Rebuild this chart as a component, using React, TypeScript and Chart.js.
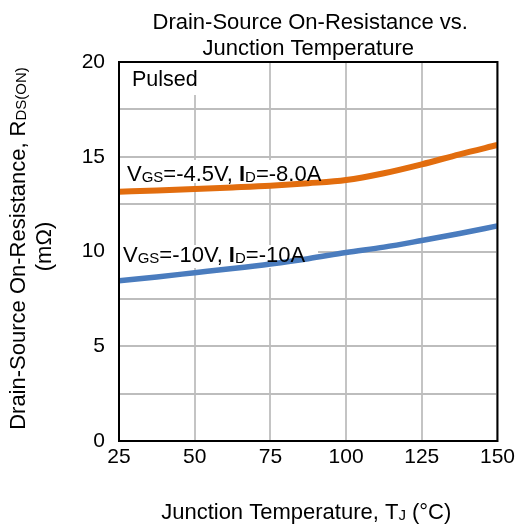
import { useEffect, useRef } from 'react';
import { Chart, registerables } from 'chart.js';

Chart.register(...registerables);

const temperatures = [25, 37.5, 50, 62.5, 75, 87.5, 100, 112.5, 125, 137.5, 150];
const rdsOnVgs45 = [13.15, 13.22, 13.3, 13.38, 13.47, 13.6, 13.77, 14.13, 14.6, 15.13, 15.62];
const rdsOnVgs10 = [8.46, 8.66, 8.88, 9.1, 9.34, 9.62, 9.95, 10.23, 10.58, 10.95, 11.35];
const xTickValues = [25, 50, 75, 100, 125, 150];
const yTickValues = [0, 5, 10, 15, 20];

const FAMILY = '"Liberation Sans", Arial, sans-serif';
const ORANGE = '#E26D0E';
const BLUE = '#4A7CBE';

type Seg = { t: string; s: number; b?: boolean; dy?: number };

function fnt(size: number, bold = false) {
  return `${bold ? 'bold ' : ''}${size}px ${FAMILY}`;
}

function richWidth(ctx: CanvasRenderingContext2D, segs: Seg[]) {
  let w = 0;
  for (const g of segs) {
    ctx.font = fnt(g.s, g.b);
    w += ctx.measureText(g.t).width;
  }
  return w;
}

function drawRich(ctx: CanvasRenderingContext2D, segs: Seg[], x: number, y: number, align: 'left' | 'center') {
  const w = richWidth(ctx, segs);
  let cx = align === 'center' ? x - w / 2 : x;
  ctx.textAlign = 'left';
  ctx.textBaseline = 'alphabetic';
  for (const g of segs) {
    ctx.font = fnt(g.s, g.b);
    ctx.fillText(g.t, cx, y + (g.dy || 0));
    cx += ctx.measureText(g.t).width;
  }
}

const decorPlugin = {
  id: 'decor',
  beforeDatasetsDraw(chart: any) {
    const { ctx, chartArea: a } = chart;
    ctx.save();
    ctx.fillStyle = '#ffffff';
    ctx.fillRect(a.left + 1, a.top + 1, 78, 32);
    ctx.fillRect(a.left + 6, a.top + 98, 204, 23);
    ctx.fillRect(a.left + 1, a.top + 183, 198, 23);
    ctx.restore();
  },
  afterDatasetsDraw(chart: any) {
    const { ctx, chartArea: a } = chart;
    ctx.save();
    ctx.strokeStyle = '#000000';
    ctx.lineWidth = 2;
    ctx.strokeRect(a.left, a.top, a.right - a.left, a.bottom - a.top);
    ctx.fillStyle = '#000000';
    drawRich(ctx, [{ t: 'Pulsed', s: 21.5 }], a.left + 13, a.top + 24, 'left');
    drawRich(
      ctx,
      [
        { t: 'V', s: 22 },
        { t: 'GS', s: 15, dy: 1 },
        { t: '=-4.5V, ', s: 22 },
        { t: 'I', s: 22, b: true },
        { t: 'D', s: 15, dy: 1 },
        { t: '=-8.0A', s: 22 },
      ],
      a.left + 8,
      a.top + 119,
      'left'
    );
    drawRich(
      ctx,
      [
        { t: 'V', s: 22 },
        { t: 'GS', s: 15, dy: 1 },
        { t: '=-10V, ', s: 22 },
        { t: 'I', s: 22, b: true },
        { t: 'D', s: 15, dy: 1 },
        { t: '=-10A', s: 22 },
      ],
      a.left + 4,
      a.top + 200,
      'left'
    );
    ctx.restore();
  },
  afterDraw(chart: any) {
    const { ctx, chartArea: a } = chart;
    const cx = (a.left + a.right) / 2;
    ctx.save();
    ctx.fillStyle = '#000000';
    drawRich(ctx, [{ t: 'Drain-Source On-Resistance vs.', s: 22 }], cx + 2, 29, 'center');
    drawRich(ctx, [{ t: 'Junction Temperature', s: 22 }], cx, 55, 'center');
    drawRich(
      ctx,
      [
        { t: 'Junction Temperature, T', s: 22 },
        { t: 'J', s: 15, dy: 1 },
        { t: ' (°C)', s: 22 },
      ],
      cx - 2,
      519,
      'center'
    );
    const cy = (a.top + a.bottom) / 2;
    ctx.translate(25, cy - 3);
    ctx.rotate(-Math.PI / 2);
    drawRich(
      ctx,
      [
        { t: 'Drain-Source On-Resistance, R', s: 22 },
        { t: 'DS(ON)', s: 15, dy: 1 },
      ],
      0,
      0,
      'center'
    );
    ctx.restore();
    ctx.save();
    ctx.fillStyle = '#000000';
    ctx.translate(51, cy - 5);
    ctx.rotate(-Math.PI / 2);
    drawRich(ctx, [{ t: '(mΩ)', s: 22 }], 0, 0, 'center');
    ctx.restore();
  },
};

export default function App() {
  const ref = useRef<HTMLCanvasElement | null>(null);

  useEffect(() => {
    document.body.style.margin = '0';
    const canvas = ref.current;
    if (!canvas) return;
    const chart = new Chart(canvas, {
      type: 'line',
      data: {
        datasets: [
          {
            label: 'VGS=-4.5V, ID=-8.0A',
            data: temperatures.map((t, i) => ({ x: t, y: rdsOnVgs45[i] })),
            borderColor: ORANGE,
            borderWidth: 6,
            pointRadius: 0,
            tension: 0.4,
            cubicInterpolationMode: 'monotone',
            fill: false,
          },
          {
            label: 'VGS=-10V, ID=-10A',
            data: temperatures.map((t, i) => ({ x: t, y: rdsOnVgs10[i] })),
            borderColor: BLUE,
            borderWidth: 5.5,
            pointRadius: 0,
            tension: 0.4,
            cubicInterpolationMode: 'monotone',
            fill: false,
          },
        ],
      },
      options: {
        responsive: false,
        animation: false,
        devicePixelRatio: 1,
        layout: { padding: { top: 62, right: 19, left: 0, bottom: 0 } },
        plugins: {
          legend: { display: false },
          title: { display: false },
          tooltip: { enabled: false },
        },
        scales: {
          x: {
            type: 'linear',
            min: 25,
            max: 150,
            afterFit: (s: any) => {
              s.height = 87;
            },
            afterBuildTicks: (s: any) => {
              s.ticks = xTickValues.map((v) => ({ value: v }));
            },
            ticks: {
              autoSkip: false,
              maxRotation: 0,
              padding: 4,
              color: '#000000',
              font: { family: FAMILY, size: 21 },
              callback: (v: any) => String(v),
            },
            grid: { color: '#C4C4C4', lineWidth: 2, drawTicks: false },
            border: { display: false },
          },
          y: {
            type: 'linear',
            min: 0,
            max: 20,
            afterFit: (s: any) => {
              s.width = 119;
            },
            afterBuildTicks: (s: any) => {
              const out: any[] = [];
              for (let i = 0; i < yTickValues.length; i++) {
                out.push({ value: yTickValues[i] });
                if (i < yTickValues.length - 1) out.push({ value: yTickValues[i] + 2.5 });
              }
              s.ticks = out;
            },
            ticks: {
              autoSkip: false,
              padding: 14,
              color: '#000000',
              font: { family: FAMILY, size: 21 },
              callback: (v: any) => (yTickValues.includes(Number(v)) ? String(v) : ''),
            },
            grid: { color: '#BDBDBD', lineWidth: 2, drawTicks: false },
            border: { display: false },
          },
        },
      },
      plugins: [decorPlugin],
    });
    return () => chart.destroy();
  }, []);

  return <canvas ref={ref} width={519} height={528} style={{ display: 'block' }} />;
}
